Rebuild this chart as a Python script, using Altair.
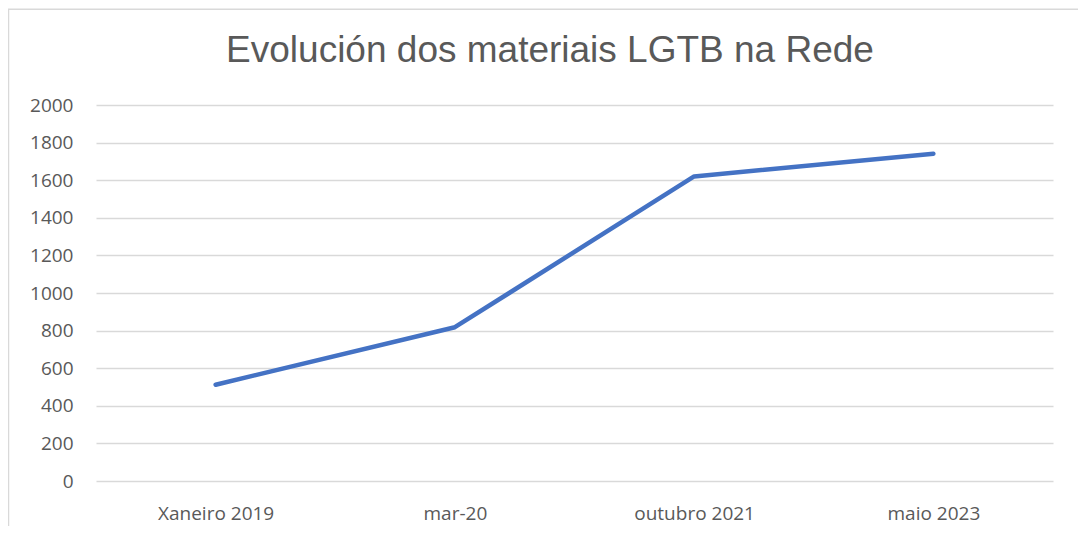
import altair as alt
import pandas as pd

categories = ["Xaneiro 2019", "mar-20", "outubro 2021", "maio 2023"]
values = [512, 818, 1620, 1741]
y_ticks = list(range(0, 2001, 200))
title_text = "Evolución dos materiais LGTB na Rede"

df = pd.DataFrame({"periodo": categories, "materiais": values})

TEXT = "#595959"
GRID = "#d9d9d9"

one = pd.DataFrame({"t": [title_text]})

frame = alt.Chart(one).mark_rect(
    fill="white", fillOpacity=0, stroke=GRID, strokeWidth=1.5, clip=False
).encode(
    x=alt.value(-87.5), x2=alt.value(1200),
    y=alt.value(-95.8), y2=alt.value(700)
)

title = alt.Chart(one).mark_text(
    font="Liberation Sans", fontSize=37, color=TEXT, align="center",
    baseline="alphabetic", clip=False
).encode(
    text="t:N", x=alt.value(454), y=alt.value(-42.8)
)

line = alt.Chart(df).mark_line(
    color="#4472C4", strokeWidth=4.5, strokeCap="round", strokeJoin="round"
).encode(
    x=alt.X("periodo:N", sort=categories, scale=alt.Scale(type="point", padding=0.5),
            axis=alt.Axis(title=None, labelAngle=0, ticks=False, tickSize=0, domain=False,
                          grid=False, labelFont="Open Sans", labelFontSize=19,
                          labelColor=TEXT, labelPadding=23)),
    y=alt.Y("materiais:Q", scale=alt.Scale(domain=[0, 2000], nice=False),
            axis=alt.Axis(title=None, values=y_ticks, format="d", ticks=False, tickSize=0,
                          domain=False, grid=True, gridColor=GRID, gridWidth=1.3,
                          labelFont="Open Sans", labelFontSize=19, labelColor=TEXT,
                          labelPadding=23)),
)

chart = alt.layer(frame, title, line).properties(
    width=957, height=376,
    autosize=alt.AutoSizeParams(type="none"),
    padding={"left": 88, "top": 97, "right": 25, "bottom": 45},
).configure(background="white").configure_view(strokeWidth=0, stroke="transparent")

chart.save("out.html", embed_options={"renderer": "svg", "actions": False})
